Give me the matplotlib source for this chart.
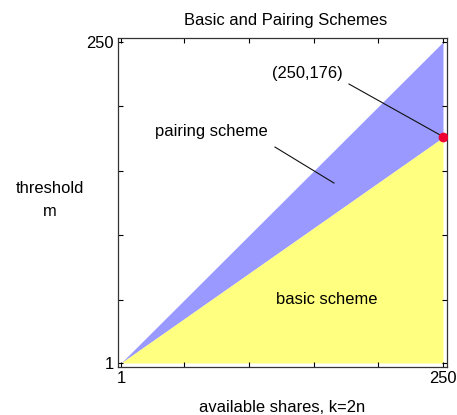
import matplotlib
matplotlib.use('Agg')
import matplotlib.pyplot as plt

plt.rcParams['font.family'] = ['Liberation Sans', 'DejaVu Sans']

# region boundaries (k = available shares, m = threshold)
k_ends = [1, 250]
basic_m = [1, 176]       # basic scheme upper edge
pairing_m = [1, 250]     # pairing scheme upper edge (m = k)
point_k, point_m = 250, 176

x_ticks_major = [1, 250]
x_ticks_minor = [50, 100, 150, 200]

FS = 11.9

fig = plt.figure(figsize=(4.57, 4.15), dpi=100)
ax = fig.add_axes([118 / 457, 1 - 367 / 415, 329 / 457, 329 / 415])

ax.fill_between(k_ends, basic_m, pairing_m, color='#9999ff', lw=0)
ax.fill_between(k_ends, [1, 1], basic_m, color='#ffff80', lw=0)
ax.plot([point_k], [point_m], 'o', color='#ee0033', ms=6, zorder=5)

# annotations
ax.text(70.6, 180.2, 'pairing scheme', fontsize=FS, ha='center', va='center')
ax.plot([120.1, 165.7], [168.5, 140.6], color='#111111', lw=0.8)
ax.text(145.2, 225.9, '(250,176)', fontsize=FS, ha='center', va='center')
ax.plot([177.3, 247.7], [217.4, 177.9], color='#111111', lw=0.8)
ax.text(160.3, 49.9, 'basic scheme', fontsize=FS, ha='center', va='center')

ax.set_xlim(-1.3, 253.1)
ax.set_ylim(-2.1, 253.1)
ax.set_xticks(x_ticks_major)
ax.set_xticks(x_ticks_minor, minor=True)
ax.set_yticks(x_ticks_major)
ax.set_yticks(x_ticks_minor, minor=True)
ax.tick_params(which='both', direction='in', top=True, right=True,
               length=3.5, width=0.8, labelsize=FS, pad=3)
for s in ax.spines.values():
    s.set_linewidth(0.9)
    s.set_color('#333333')

fig.text(286 / 457, 1 - 20 / 415, 'Basic and Pairing Schemes', fontsize=FS,
         ha='center', va='center')
fig.text(282 / 457, 1 - 407 / 415, 'available shares, k=2n', fontsize=FS,
         ha='center', va='center')
fig.text(50 / 457, 1 - 200 / 415, 'threshold\nm', fontsize=FS,
         ha='center', va='center', linespacing=1.6)

fig.savefig('out.png', dpi=100)
